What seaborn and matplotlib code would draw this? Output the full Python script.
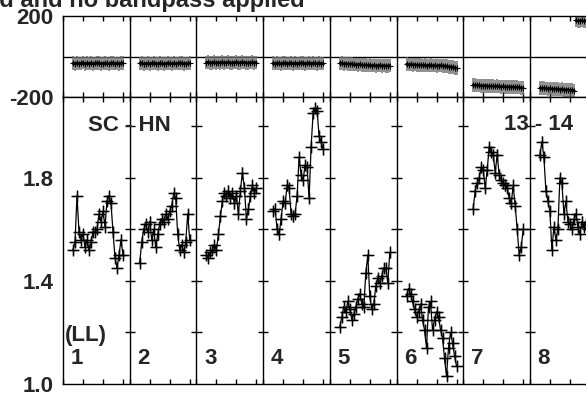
import numpy as np
import pandas as pd
import matplotlib
matplotlib.use("Agg")
import matplotlib.pyplot as plt
import seaborn as sns

# ---------------- data ----------------
channels = list(range(5, 31))          # 26 channels per IF
if_labels = ["1", "2", "3", "4", "5", "6", "7", "8"]
baseline_label = "SC - HN"
time_label = "13 - 14"
pol_label = "(LL)"
title_text = "Data calibrated and no bandpass applied"

amp_if1 = [1.52, 1.55, 1.73, 1.59, 1.56, 1.58, 1.53, 1.56, 1.52, 1.55, 1.59, 1.59, 1.60,
           1.66, 1.63, 1.67, 1.61, 1.71, 1.73, 1.70, 1.59, 1.49, 1.45, 1.50, 1.56, 1.50]
amp_if2 = [1.47, 1.55, 1.60, 1.62, 1.59, 1.63, 1.56, 1.60, 1.53, 1.58, 1.62, 1.64, 1.63,
           1.66, 1.64, 1.67, 1.69, 1.74, 1.72, 1.58, 1.52, 1.54, 1.51, 1.55, 1.66, 1.56]
amp_if3 = [1.50, 1.49, 1.51, 1.52, 1.54, 1.52, 1.58, 1.65, 1.71, 1.74, 1.73, 1.75, 1.72,
           1.74, 1.70, 1.73, 1.66, 1.75, 1.82, 1.76, 1.64, 1.68, 1.73, 1.77, 1.74, 1.76]
amp_if4 = [1.67, 1.68, 1.60, 1.58, 1.64, 1.71, 1.70, 1.77, 1.76, 1.66, 1.65, 1.66, 1.73,
           1.88, 1.81, 1.79, 1.85, 1.84, 1.72, 1.92, 2.05, 2.07, 2.06, 1.96, 1.94, 1.91]
amp_if5 = [1.22, 1.26, 1.30, 1.28, 1.32, 1.29, 1.25, 1.27, 1.30, 1.33, 1.35, 1.31, 1.30,
           1.43, 1.50, 1.34, 1.29, 1.31, 1.38, 1.41, 1.39, 1.42, 1.45, 1.45, 1.39, 1.51]
amp_if6 = [1.34, 1.37, 1.35, 1.32, 1.29, 1.26, 1.28, 1.31, 1.25, 1.21, 1.14, 1.30, 1.32,
           1.21, 1.25, 1.28, 1.26, 1.21, 1.18, 1.10, 1.03, 1.14, 1.20, 1.16, 1.11, 1.07]
amp_if7 = [1.68, 1.75, 1.78, 1.80, 1.84, 1.83, 1.76, 1.83, 1.92, 1.90, 1.89, 1.82, 1.89,
           1.81, 1.79, 1.78, 1.77, 1.76, 1.72, 1.70, 1.77, 1.69, 1.60, 1.50, 1.53, 1.60]
amp_if8 = [1.89, 1.94, 1.88, 1.75, 1.71, 1.67, 1.52, 1.61, 1.56, 1.60, 1.80, 1.78, 1.66,
           1.71, 1.63, 1.62, 1.60, 1.64, 1.66, 1.61, 1.58, 1.63, 1.61, 1.62, 1.60, 1.63]

phase_if1 = [-33, -36, -31, -35, -34, -30, -37, -33, -35, -32, -36, -34, -31,
             -33, -36, -35, -32, -34, -37, -33, -31, -35, -34, -36, -33, -32]
phase_if2 = [-34, -32, -36, -35, -33, -37, -34, -31, -35, -36, -33, -34, -37,
             -35, -32, -34, -36, -33, -35, -34, -31, -33, -36, -35, -34, -33]
phase_if3 = [-30, -28, -32, -31, -29, -33, -30, -31, -28, -32, -30, -29, -31,
             -33, -30, -28, -31, -32, -29, -30, -31, -33, -30, -29, -31, -30]
phase_if4 = [-33, -35, -32, -34, -36, -33, -31, -35, -34, -32, -36, -33, -35,
             -34, -31, -33, -36, -34, -32, -35, -33, -34, -36, -32, -35, -34]
phase_if5 = [-34, -33, -36, -35, -37, -38, -36, -39, -40, -41, -39, -42, -43,
             -42, -44, -43, -45, -44, -46, -45, -44, -46, -45, -47, -46, -45]
phase_if6 = [-38, -40, -39, -41, -40, -42, -43, -42, -44, -43, -45, -44, -43,
             -45, -44, -46, -45, -44, -46, -47, -48, -50, -51, -53, -55, -57]
phase_if7 = [-141, -142, -143, -143, -144, -145, -144, -146, -147, -146, -147, -148, -147,
             -148, -149, -148, -149, -150, -150, -151, -150, -152, -151, -153, -154, -155]
phase_if8 = [-155, -157, -156, -158, -159, -158, -160, -161, -160, -162, -163, -162, -164,
             -165, -164, -166, -167, -168, 178, 177, 176, 178, 175, 177, 176, 177]

amp_err = 0.02
phase_err = 34

amps = [amp_if1, amp_if2, amp_if3, amp_if4, amp_if5, amp_if6, amp_if7, amp_if8]
phases = [phase_if1, phase_if2, phase_if3, phase_if4, phase_if5, phase_if6, phase_if7, phase_if8]

IF_WIDTH = 33.35   # channel units per IF panel

rows = []
for i, (a, p) in enumerate(zip(amps, phases)):
    seg = 0
    prev = None
    for c, av, pv in zip(channels, a, p):
        if prev is not None and abs(pv - prev) > 180:
            seg += 1
        prev = pv
        rows.append(dict(IF=i, chan=c, x=i * IF_WIDTH + c, amp=av, phase=pv,
                         pseg=i * 10 + seg))
df = pd.DataFrame(rows)

# ---------------- style ----------------
sns.set_style("white")
plt.rcParams["font.family"] = ["Liberation Sans", "DejaVu Sans"]
plt.rcParams["font.weight"] = "bold"

W, H = 586, 394
fig = plt.figure(figsize=(W / 100, H / 100), dpi=100)
left = 63 / W
width = 8 * 66.7 / W
ax1 = fig.add_axes([left, 1 - 97 / H, width, (97 - 16) / H])
ax2 = fig.add_axes([left, 1 - 384 / H, width, (384 - 97) / H])

xmax = 8 * IF_WIDTH
bounds = [k * IF_WIDTH for k in range(1, 8)]
xt = []
for k in range(8):
    xt += [k * IF_WIDTH, k * IF_WIDTH + 10, k * IF_WIDTH + 20, k * IF_WIDTH + 30]

# ---- top panel: phase ----
ax1.errorbar(df["x"], df["phase"], yerr=phase_err, fmt="none",
             ecolor="#707070", elinewidth=1.1, capsize=0, zorder=2)
sns.lineplot(data=df, x="x", y="phase", units="pseg", estimator=None,
             color="black", lw=1.8, marker="+", markersize=4,
             markeredgecolor="black", mew=0.8, ax=ax1, legend=False, zorder=3)
ax1.axhline(0, color="black", lw=1.0, zorder=1)
for b in bounds:
    ax1.axvline(b, color="black", lw=1.0, zorder=1)
ax1.set_xlim(0, xmax)
ax1.set_ylim(-200, 200)
ax1.set_yticks([-200, 200])
ax1.set_yticklabels(["-200", "200"])
ax1.set_xticks(xt)
ax1.set_xticklabels([])
ax1.tick_params(axis="x", direction="in", length=3.5, width=1, top=True, bottom=True,
                color="black")
ax1.tick_params(axis="y", length=0, pad=7, labelsize=16)
ax1.set_xlabel("")
ax1.set_ylabel("")

# ---- bottom panel: amplitude ----
ax2.errorbar(df["x"], df["amp"], yerr=amp_err, xerr=2.6, fmt="none",
             ecolor="#454545", elinewidth=1.0, capsize=0, zorder=2)
sns.lineplot(data=df, x="x", y="amp", units="IF", estimator=None,
             color="black", lw=0.9, marker="+", markersize=8,
             markeredgecolor="black", mew=1.0, ax=ax2, legend=False, zorder=3)
for b in bounds:
    ax2.axvline(b, color="black", lw=1.0, zorder=1)
yt = [1.0, 1.2, 1.4, 1.6, 1.8, 2.0]
for b in bounds:
    ax2.hlines(yt[1:], b - 2.6, b + 2.6, color="black", lw=1.0, zorder=1)
ax2.set_xlim(0, xmax)
ax2.set_ylim(1.0, 2.113)
ax2.set_yticks(yt)
ax2.set_yticklabels(["1.0", "", "1.4", "", "1.8", ""])
ax2.set_xticks(xt)
ax2.set_xticklabels([])
ax2.tick_params(axis="x", direction="in", length=3.5, width=1, top=True, bottom=True,
                color="black")
ax2.tick_params(axis="y", direction="in", length=5, width=1, pad=7, labelsize=16,
                color="black")
ax2.set_xlabel("")
ax2.set_ylabel("")

for ax in (ax1, ax2):
    for s in ax.spines.values():
        s.set_color("black")
        s.set_linewidth(1.0)
    for lab in ax.get_yticklabels():
        lab.set_fontweight("bold")

# ---- annotations ----
ax2.text(IF_WIDTH, 1.98, baseline_label, ha="center", va="baseline",
         fontsize=16, fontweight="bold")
ax2.text(7 * IF_WIDTH + 4.5, 1.984, time_label, ha="center", va="baseline",
         fontsize=16, fontweight="bold")
ax2.text(0.8, 1.165, pol_label, ha="left", va="baseline", fontsize=16, fontweight="bold")
for k, lab in enumerate(if_labels):
    ax2.text(k * IF_WIDTH + 3.8, 1.078, lab, ha="left", va="baseline",
             fontsize=16, fontweight="bold")

fig.text(305 / W, 1 - 7 / H, title_text, ha="right", va="baseline",
         fontsize=17, fontweight="bold")

fig.savefig("out.png", dpi=100)
